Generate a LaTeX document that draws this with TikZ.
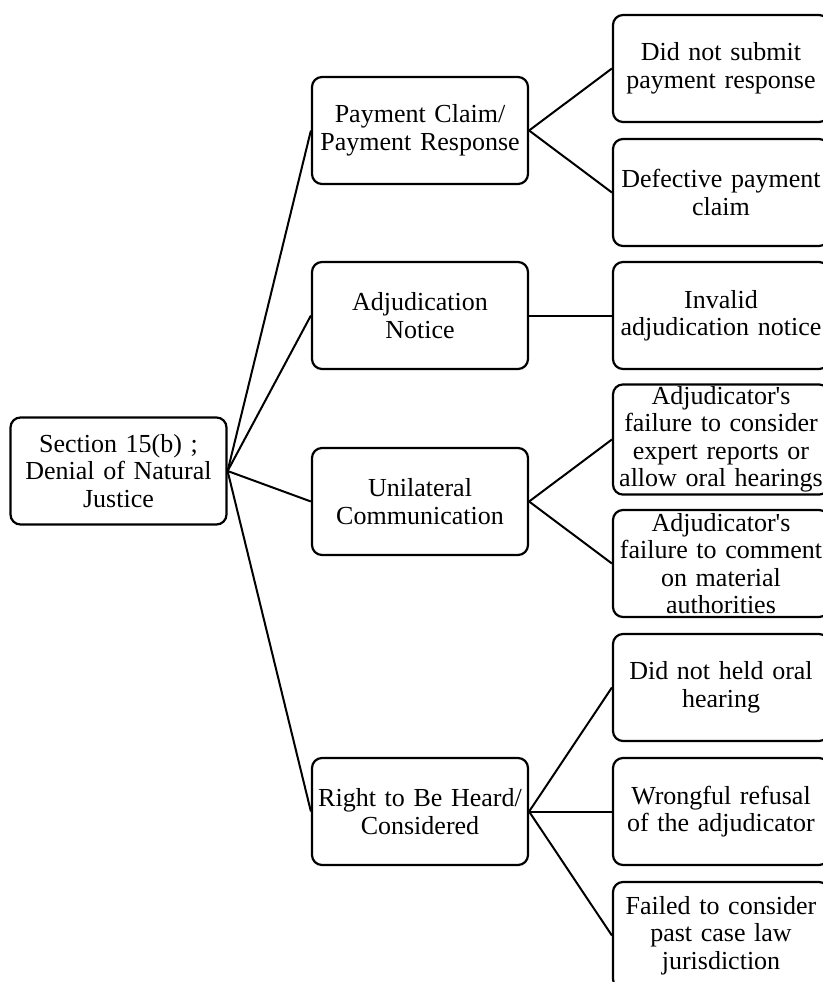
\documentclass[tikz,border=0pt]{standalone}
\usepackage{fontspec}
\setmainfont{Liberation Serif}[Ligatures=TeXOff]

\begin{document}
\begin{tikzpicture}[x=1pt, y=-1pt,
    box/.style={draw, line width=2.2pt, rounded corners=10pt, minimum width=216pt, minimum height=107pt,
        text width=212pt, align=center, inner sep=2pt, font=\fontsize{26}{27.5}\selectfont},
    link/.style={line width=2pt}]
    \useasboundingbox (0,0) rectangle (822,982);
    % Root box
    \node[box] (root) at (118.5,471) {Section 15(b) ;\\Denial of Natural\\Justice};
    % Middle column
    \node[box] (pay) at (420,130.5) {Payment Claim/\\Payment Response};
    \node[box] (notice) at (420,315.5) {Adjudication\\Notice};
    \node[box] (uni) at (420,501.5) {Unilateral\\Communication};
    \node[box] (heard) at (420,811.5) {Right to Be Heard/\\Considered};
    % Right column
    \node[box] (nosubmit) at (721,68.5) {Did not submit\\payment response};
    \node[box] (defect) at (721,192.5) {Defective payment\\claim};
    \node[box] (invalid) at (721,315.5) {Invalid\\adjudication notice};
    \node[box] (expert) at (721,439.5) {Adjudicator's\\failure to consider\\expert reports or\\allow oral hearings};
    \node[box] (comment) at (721,563.5) {Adjudicator's\\failure to comment\\on material\\authorities};
    \node[box] (oral) at (721,687.5) {Did not held oral\\hearing};
    \node[box] (refusal) at (721,811.5) {Wrongful refusal\\of the adjudicator};
    \node[box] (caselaw) at (721,935.5) {Failed to consider\\past case law\\jurisdiction};
    % Connectors
    \foreach \m in {pay,notice,uni,heard}
        \draw[link] (root.east) -- (\m.west);
    \draw[link] (pay.east) -- (nosubmit.west);
    \draw[link] (pay.east) -- (defect.west);
    \draw[link] (notice.east) -- (invalid.west);
    \draw[link] (uni.east) -- (expert.west);
    \draw[link] (uni.east) -- (comment.west);
    \foreach \r in {oral,refusal,caselaw}
        \draw[link] (heard.east) -- (\r.west);
\end{tikzpicture}
\end{document}
